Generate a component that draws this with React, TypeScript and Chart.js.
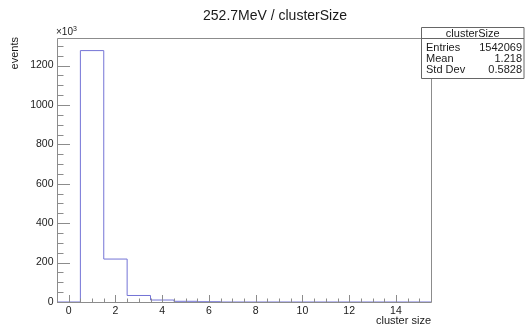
import React, { useEffect, useRef } from "react";
import { Chart, registerables } from "chart.js";

Chart.register(...registerables);

// ---- data ----
const binCenters = [0, 1, 2, 3, 4, 5, 6, 7, 8, 9, 10, 11, 12, 13, 14, 15];
const binValues = [0, 1276, 218, 33, 10, 3.5, 1.5, 0, 0, 0, 0, 0, 0, 0, 0, 0]; // x10^3 events
const xTickValues = [0, 2, 4, 6, 8, 10, 12, 14];
const xTickLabels = ["0", "2", "4", "6", "8", "10", "12", "14"];
const yTickValues = [0, 200, 400, 600, 800, 1000, 1200];
const yTickLabels = ["0", "200", "400", "600", "800", "1000", "1200"];
const titleText = "252.7MeV / clusterSize";
const xAxisTitle = "cluster size";
const yAxisTitle = "events";
const statsTitle = "clusterSize";
const statsNames = ["Entries", "Mean", "Std Dev"];
const statsValues = ["1542069", "1.218", "0.5828"];

const X_MIN = -0.5;
const X_MAX = 15.5;
const Y_MAX = 1340;

const FONT = "'Liberation Sans', Arial, Helvetica, sans-serif";
const AXIS_COLOR = "#8c8c8c";
const TEXT_COLOR = "#1a1a1a";
const LINE_COLOR = "#7474d6";

function buildSteps() {
  const pts: { x: number; y: number }[] = [];
  for (let i = 0; i < binCenters.length; i++) {
    pts.push({ x: binCenters[i] - 0.5, y: binValues[i] });
  }
  pts.push({ x: binCenters[binCenters.length - 1] + 0.5, y: 0 });
  return pts;
}

const rootPlugin = {
  id: "rootStyle",
  afterDatasetsDraw(chart: any) {
    const ctx = chart.ctx as CanvasRenderingContext2D;
    const xs = chart.scales.x;
    const ys = chart.scales.y;
    const { left, right, top, bottom } = chart.chartArea;
    ctx.save();
    // frame
    ctx.strokeStyle = AXIS_COLOR;
    ctx.lineWidth = 1;
    ctx.beginPath();
    ctx.rect(Math.round(left) + 0.5, Math.round(top) + 0.5, Math.round(right - left), Math.round(bottom - top));
    ctx.stroke();

    // x ticks (inward)
    ctx.beginPath();
    for (let v = X_MIN; v <= X_MAX + 1e-9; v += 0.5) {
      const px = Math.round(xs.getPixelForValue(v)) + 0.5;
      const major = Math.abs(v - Math.round(v / 2) * 2) < 1e-9;
      const len = major ? 7 : 3.5;
      ctx.moveTo(px, bottom);
      ctx.lineTo(px, bottom - len);
    }
    // y ticks (inward)
    for (let v = 0; v <= Y_MAX; v += 50) {
      const py = Math.round(ys.getPixelForValue(v)) + 0.5;
      const major = v % 200 === 0;
      const len = major ? 13 : 6.5;
      ctx.moveTo(left, py);
      ctx.lineTo(left + len, py);
    }
    ctx.stroke();

    // tick labels
    ctx.fillStyle = TEXT_COLOR;
    ctx.font = `10.5px ${FONT}`;
    ctx.textAlign = "center";
    ctx.textBaseline = "top";
    xTickValues.forEach((v, i) => {
      ctx.fillText(xTickLabels[i], xs.getPixelForValue(v), bottom + 3.5);
    });
    ctx.textAlign = "right";
    ctx.textBaseline = "middle";
    yTickValues.forEach((v, i) => {
      ctx.fillText(yTickLabels[i], left - 3.5, ys.getPixelForValue(v));
    });

    // x10^3
    ctx.textAlign = "left";
    ctx.textBaseline = "alphabetic";
    ctx.font = `10px ${FONT}`;
    ctx.fillText("\u00d710", left - 1, top - 3);
    const w = ctx.measureText("\u00d710").width;
    ctx.font = `7px ${FONT}`;
    ctx.fillText("3", left - 1 + w, top - 7);

    // axis titles
    ctx.font = `11px ${FONT}`;
    ctx.textAlign = "right";
    ctx.textBaseline = "alphabetic";
    ctx.fillText(xAxisTitle, right, bottom + 22);
    ctx.save();
    ctx.translate(18, top - 1);
    ctx.rotate(-Math.PI / 2);
    ctx.textAlign = "right";
    ctx.fillText(yAxisTitle, 0, 0);
    ctx.restore();

    // main title
    ctx.font = `14px ${FONT}`;
    ctx.textAlign = "center";
    ctx.fillText(titleText, 275, 20);

    // stats box
    const bx = 421.5, by = 27.5, bw = 102.5, bh = 51;
    ctx.fillStyle = "#ffffff";
    ctx.fillRect(bx, by, bw, bh);
    ctx.strokeStyle = "#666";
    ctx.beginPath();
    ctx.rect(bx, by, bw, bh);
    ctx.moveTo(bx, 38.5);
    ctx.lineTo(bx + bw, 38.5);
    ctx.stroke();
    ctx.fillStyle = TEXT_COLOR;
    ctx.font = `11px ${FONT}`;
    ctx.textAlign = "center";
    ctx.textBaseline = "middle";
    ctx.fillText(statsTitle, bx + bw / 2, 33.5);
    statsNames.forEach((n, i) => {
      const y = 47.5 + i * 11;
      ctx.textAlign = "left";
      ctx.fillText(n, 426, y);
      ctx.textAlign = "right";
      ctx.fillText(statsValues[i], 522, y);
    });
    ctx.restore();
  },
};

export default function App() {
  const ref = useRef<HTMLCanvasElement>(null);
  useEffect(() => {
    document.body.style.margin = "0";
    document.body.style.background = "#ffffff";
    const chart = new Chart(ref.current as HTMLCanvasElement, {
      type: "line",
      data: {
        datasets: [
          {
            data: buildSteps(),
            stepped: "before",
            borderColor: LINE_COLOR,
            borderWidth: 1,
            pointRadius: 0,
            fill: false,
          },
        ],
      },
      options: {
        responsive: false,
        animation: false,
        events: [],
        layout: { padding: { left: 57, right: 94, top: 38, bottom: 24 } },
        plugins: { legend: { display: false }, tooltip: { enabled: false }, title: { display: false } },
        scales: {
          x: { type: "linear", display: false, min: X_MIN, max: X_MAX },
          y: { type: "linear", display: false, min: 0, max: Y_MAX },
        },
      },
      plugins: [rootPlugin],
    });
    return () => chart.destroy();
  }, []);
  return (
    <div style={{ width: 525, height: 326, background: "#fff" }}>
      <canvas ref={ref} width={525} height={326} style={{ display: "block", width: 525, height: 326 }} />
    </div>
  );
}
